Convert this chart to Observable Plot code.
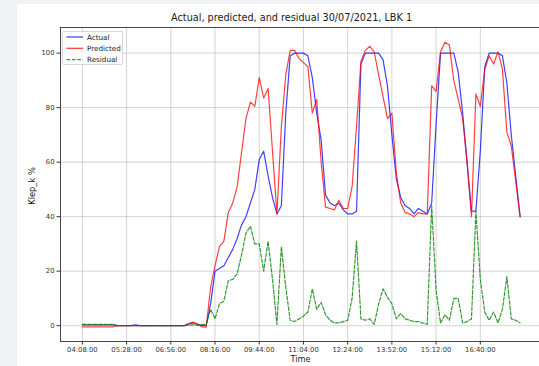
<!DOCTYPE html>
<html>
<head>
<meta charset="utf-8">
<script src="https://cdn.jsdelivr.net/npm/d3@7"></script>
<script src="https://cdn.jsdelivr.net/npm/@observablehq/plot@0.6"></script>
<style>
  html, body { margin: 0; padding: 0; width: 539px; height: 366px; overflow: hidden; background: #eef2f5; font-family: "DejaVu Sans", sans-serif; }
  #card { position: absolute; left: 17px; top: 4px; right: 0; bottom: 0; background: #ffffff; }
  #chart { position: absolute; left: 0; top: 0; }
  #chart svg { max-width: none !important; background: transparent !important; overflow: visible; }
  .title { position: absolute; top: 12px; left: 291.6px; transform: translateX(-50%); font-size: 9.7px; color: #1a1a1a; white-space: nowrap; }
  .xlabel { position: absolute; top: 354px; left: 300.5px; transform: translateX(-50%); font-size: 8.2px; color: #1a1a1a; white-space: nowrap; }
  .ylabel { position: absolute; left: 32px; top: 186px; transform: translate(-50%, -50%) rotate(-90deg); font-size: 8.3px; color: #1a1a1a; white-space: nowrap; }
  .legend { position: absolute; left: 61.5px; top: 30.5px; width: 61px; height: 34px; border: 1px solid #d6d6d6; border-radius: 2px; background: rgba(255,255,255,0.85); box-sizing: border-box; }
  .legend svg { position: absolute; left: 0; top: 0; }
</style>
</head>
<body>
<div id="card"></div>
<div id="chart"></div>
<div class="title">Actual, predicted, and residual 30/07/2021, LBK 1</div>
<div class="xlabel">Time</div>
<div class="ylabel">Klep_k %</div>
<div class="legend" id="legend"></div>
<script>
// Tick labels (every 10th sample)
const tickLabels = ["04:08:00","05:28:00","06:56:00","08:16:00","09:44:00","11:04:00","12:24:00","13:52:00","15:12:00","16:40:00"];
const yTicks = [0, 20, 40, 60, 80, 100];
const seriesNames = ["Actual", "Predicted", "Residual"];

const actual = [
  0.3,0.3,0.3,0.3,0.3,0.3,0.3,0.3,0,0,
  0,0,0.3,0,0,0,0,0,0,0,
  0,0,0,0,0.6,1.0,0.5,0,0,8,
  20,21,22,25,28,32,37,40,45,50,
  61,64,55,47,41,44,78,99,100,100,
  100,99,91,78,68,48,45,44,45,42.5,
  41,41,42,96,100,100,100,100,97.5,88,
  70,54,47,44,43,41,43,42,41,45,
  74,100,100,100,100,93,78,60,42,42,
  64,95,100,100,100,99,89,70,55,40
];
const predicted = [
  -0.4,-0.4,-0.4,-0.4,-0.4,-0.4,-0.4,-0.4,0,0,
  0,0,0,0,0,0,0,0,0,0,
  0,0,0,0,0.8,1.3,0.7,-0.4,-0.5,14,
  22,29,31,41.5,45,51,63.5,76,82,80.5,
  91,83.5,87,64,41,73,92,101,101,98,
  96.5,95,78,83,60,43.5,43,42.5,46,43,
  43,51,73,97,101,102.5,100.5,92,84,76,
  78,56,45,41.5,41,40,41.5,41,41,88,
  86,100.5,104,103,90,83,76,60,40,85,
  80.5,94,99,96,100.5,94,71,66,53,40
];
const residual = [
  0.5,0.5,0.5,0.5,0.5,0.5,0.5,0.5,0,0,
  0,0,0,0,0,0,0,0,0,0,
  0,0,0,0,0.2,0.3,0.2,0.4,0.5,6,
  2.5,8,9,16.5,17,19,26,34,36.5,30,
  30,20,31,17,0.5,29,14,2,1.5,2.5,
  3.5,5,13.5,6,8.5,4,2,1,1,1.5,
  2,10,31,2.5,2,2.5,0.5,8,13.5,10.5,
  8,2.5,4.5,2.5,2,1.5,1.5,1,0.5,44,
  13,1,4,2,10,10,1,1.5,2.5,42,
  17,5,2,5,1,6,18,2.5,2,1
];

const rows = actual.map((v, i) => ({i, actual: v, predicted: predicted[i], residual: residual[i]}));
const xTicks = tickLabels.map((_, k) => k * 10);

const colors = {Actual: "#0000ff", Predicted: "#ff0000", Residual: "#008000"};

const chart = Plot.plot({
  width: 545,
  height: 366,
  marginLeft: 60,
  marginRight: 3.5,
  marginTop: 27,
  marginBottom: 25,
  style: {fontFamily: "DejaVu Sans", fontSize: "6.8px", color: "#333", background: "transparent"},
  x: {domain: [-4.95, 103.95], label: null},
  y: {domain: [-5.8, 109.4], label: null},
  marks: [
    Plot.gridX(xTicks, {stroke: "#b0b0b0", strokeOpacity: 0.55, strokeWidth: 1}),
    Plot.gridY(yTicks, {stroke: "#b0b0b0", strokeOpacity: 0.55, strokeWidth: 1}),
    Plot.axisX(xTicks, {tickFormat: d => tickLabels[d / 10], tickSize: 3.5, tickPadding: 2, stroke: "#333", fill: "#333", label: null}),
    Plot.axisY(yTicks, {tickSize: 3.5, tickPadding: 2.5, stroke: "#333", fill: "#333", label: null}),
    Plot.lineY(rows, {x: "i", y: "actual", stroke: colors.Actual, strokeWidth: 1.2, strokeOpacity: 0.75}),
    Plot.lineY(rows, {x: "i", y: "predicted", stroke: colors.Predicted, strokeWidth: 1.2, strokeOpacity: 0.75}),
    Plot.lineY(rows, {x: "i", y: "residual", stroke: colors.Residual, strokeWidth: 1.2, strokeOpacity: 0.8, strokeDasharray: "3.6,1.8"}),
    Plot.frame({stroke: "#333", strokeWidth: 0.9})
  ]
});
document.getElementById("chart").appendChild(chart);

// Legend
const lg = d3.select("#legend").append("svg").attr("width", 61).attr("height", 34);
seriesNames.forEach((name, k) => {
  const y = 5 + k * 11.3;
  lg.append("line").attr("x1", 3.5).attr("x2", 20).attr("y1", y).attr("y2", y)
    .attr("stroke", colors[name]).attr("stroke-width", 1.2).attr("stroke-opacity", 0.8)
    .attr("stroke-dasharray", name === "Residual" ? "3.6,1.8" : null);
  lg.append("text").attr("x", 24).attr("y", y).attr("dy", "0.35em")
    .attr("font-size", "7.2px").attr("font-family", "DejaVu Sans").attr("fill", "#1a1a1a").text(name);
});
</script>
</body>
</html>
